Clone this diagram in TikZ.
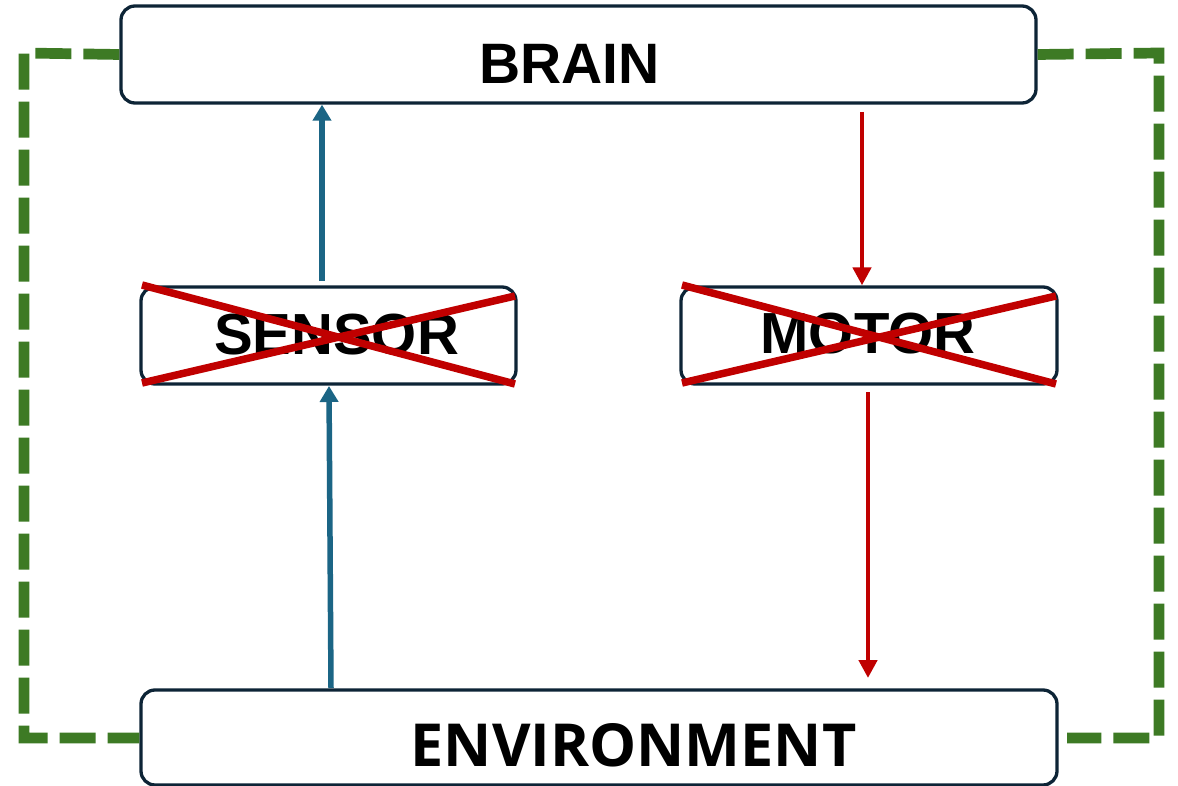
\documentclass[tikz,border=0pt]{standalone}
\usepackage{fontspec}
\setmainfont{Liberation Sans}
\newfontfamily\envfont{Open Sans}
\usetikzlibrary{arrows.meta}
\definecolor{navy}{HTML}{0D2436}
\definecolor{arrowblue}{HTML}{1B6585}
\definecolor{xred}{HTML}{C00000}
\definecolor{loopgreen}{HTML}{3D7A24}
\begin{document}
\begin{tikzpicture}[x=1pt,y=-1pt,
  box/.style={draw=navy, line width=3.3pt, rounded corners=14pt, fill=white, inner sep=0pt},
  label/.style={inner sep=0pt, font=\fontsize{57}{60}\selectfont\bfseries},
  sublabel/.style={inner sep=0pt, font=\fontsize{58}{60}\selectfont\bfseries},
  envlabel/.style={inner sep=0pt, font=\envfont\fontsize{59.3}{64}\selectfont\bfseries},
  bluearrow/.style={draw=arrowblue, line width=5.5pt, -{Triangle[width=18pt,length=16pt]}},
  redarrow/.style={draw=xred, line width=4.5pt, -{Triangle[width=18pt,length=18pt]}},
  cross/.style={draw=xred, line width=7.5pt},
  loop/.style={draw=loopgreen, line width=10.7pt, dash pattern=on 36pt off 12pt}
]
\useasboundingbox (0,0) rectangle (1178,786);
\fill[white] (0,0) rectangle (1178,786);

% boxes
\node[box, minimum width=915pt, minimum height=97pt] (brain) at (578.5,54.5) {};
\node[box, minimum width=375pt, minimum height=97pt] (sensor) at (328.5,335.5) {};
\node[box, minimum width=376pt, minimum height=97pt] (motor) at (869,335.5) {};
\node[box, minimum width=916pt, minimum height=95pt] (env) at (599,737.5) {};

% labels
\node[label] (brainlbl) at (569.5,64) {BRAIN};
\node[sublabel] (sensorlbl) at (336.5,335) {SENSOR};
\node[sublabel] (motorlbl) at (868,334) {MOTOR};
\node[envlabel] (envlbl) at (633.5,745) {ENVIRONMENT};

% green dashed loop
\coordinate (gl1) at (24,53);
\coordinate (gl2) at (24,738);
\coordinate (gr1) at (1159,53);
\coordinate (gr2) at (1159,738);
\coordinate (grend) at (1067,738);
\draw[loop] (brain.west) -- (gl1) -- (gl2) -- (gl2 -| env.west);
\draw[loop] (brain.east) -- (gr1) -- (gr2) -- (grend);

% blue arrows
\coordinate (b1) at (322,281);
\coordinate (b2) at (331,688);
\coordinate (b2e) at (329,386);
\draw[bluearrow] (b1) -- (b1 |- brain.south);
\draw[bluearrow] (b2) -- (b2e);

% red arrows
\coordinate (r1) at (862,112);
\coordinate (r2) at (868,392);
\coordinate (r2e) at (868,678);
\draw[redarrow] (r1) -- (r1 |- motor.north);
\draw[redarrow] (r2) -- (r2e);

% red crosses
\draw[cross] (142,285) -- (515,384);
\draw[cross] (142,383) -- (515,296);
\draw[cross] (682,285) -- (1056,384);
\draw[cross] (682,383) -- (1056,296);
\end{tikzpicture}
\end{document}
